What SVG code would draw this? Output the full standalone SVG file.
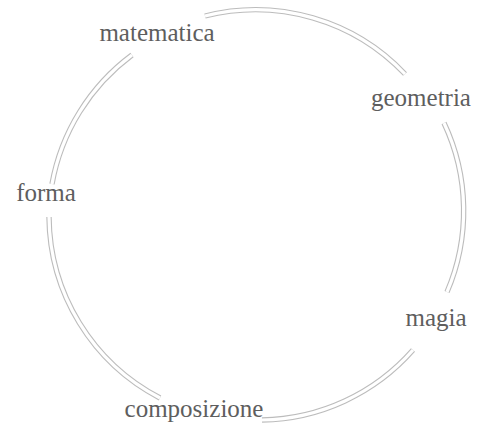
<svg xmlns="http://www.w3.org/2000/svg" xmlns:xlink="http://www.w3.org/1999/xlink" width="481" height="426" viewBox="0 0 481 426">
  <style>
    .lbl { font-family: "Liberation Serif", "DejaVu Serif", serif; font-size: 25px; fill: #5e5e5e; text-anchor: middle; }
    .outer { fill: none; stroke: #bcbcbc; stroke-width: 5.4; }
    .inner { fill: none; stroke: #ffffff; stroke-width: 3.2; }
  </style>
  <defs>
    <path id="e1" d="M205,16 A206,206 0 0 1 405,74"/>
    <path id="e2" d="M444,123 A206,206 0 0 1 447,292"/>
    <path id="e3" d="M413,350 A206,206 0 0 1 262,420"/>
    <path id="e4" d="M160,398 A206,206 0 0 1 49,217"/>
    <path id="e5" d="M52,184 A206,206 0 0 1 132,55"/>
  </defs>
  <rect width="481" height="426" fill="#ffffff"/>
  <g id="connectors">
    <use xlink:href="#e1" class="outer"/><use xlink:href="#e1" class="inner"/>
    <use xlink:href="#e2" class="outer"/><use xlink:href="#e2" class="inner"/>
    <use xlink:href="#e3" class="outer"/><use xlink:href="#e3" class="inner"/>
    <use xlink:href="#e4" class="outer"/><use xlink:href="#e4" class="inner"/>
    <use xlink:href="#e5" class="outer"/><use xlink:href="#e5" class="inner"/>
  </g>
  <g id="matematica"><text class="lbl" x="157" y="41">matematica</text></g>
  <g id="geometria"><text class="lbl" x="421" y="106">geometria</text></g>
  <g id="magia"><text class="lbl" x="436" y="326">magia</text></g>
  <g id="composizione"><text class="lbl" x="194" y="417">composizione</text></g>
  <g id="forma"><text class="lbl" x="46" y="201">forma</text></g>
</svg>
